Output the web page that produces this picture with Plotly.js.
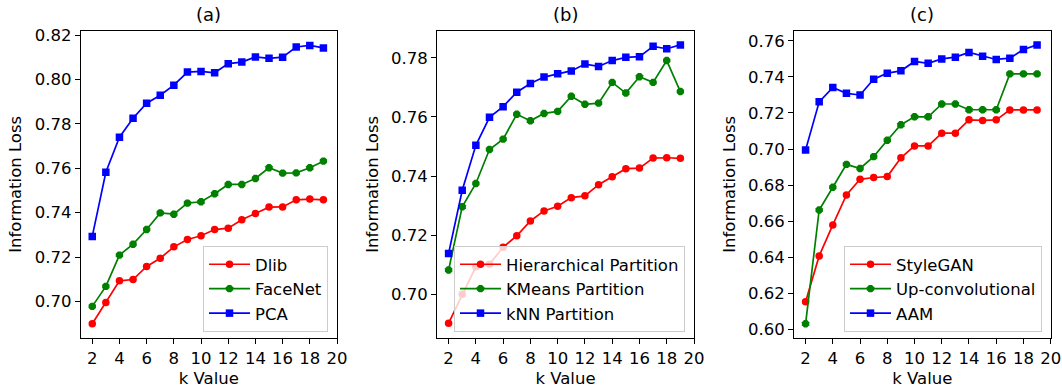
<!DOCTYPE html>
<html>
<head>
<meta charset="utf-8">
<script src="https://cdn.plot.ly/plotly-3.0.1.min.js"></script>
<style>html,body{margin:0;padding:0;background:#fff;}#chart{width:1062px;height:392px;}</style>
</head>
<body>
<div id="chart"></div>
<script>
const kValues = [2,3,4,5,6,7,8,9,10,11,12,13,14,15,16,17,18,19];
const xTicks = [2,4,6,8,10,12,14,16,18,20];

// (a)
const dlib    = [0.6900,0.6996,0.7093,0.7099,0.7158,0.7195,0.7246,0.7279,0.7296,0.7324,0.7330,0.7368,0.7396,0.7425,0.7426,0.7458,0.7461,0.7458];
const facenet = [0.6978,0.7068,0.7209,0.7258,0.7324,0.7399,0.7393,0.7443,0.7449,0.7485,0.7527,0.7527,0.7554,0.7602,0.7578,0.7579,0.7602,0.7632];
const pca     = [0.7293,0.7582,0.7740,0.7825,0.7893,0.7929,0.7974,0.8033,0.8036,0.8030,0.8071,0.8078,0.8101,0.8095,0.8100,0.8146,0.8153,0.8142];
// (b)
const hierarchical = [0.6902,0.7000,0.7093,0.7102,0.7159,0.7198,0.7248,0.7282,0.7298,0.7327,0.7333,0.7371,0.7398,0.7425,0.7427,0.7461,0.7462,0.7460];
const kmeans       = [0.7082,0.7296,0.7375,0.7490,0.7525,0.7609,0.7587,0.7612,0.7619,0.7670,0.7643,0.7647,0.7717,0.7681,0.7736,0.7717,0.7791,0.7686];
const knn          = [0.7138,0.7352,0.7504,0.7599,0.7635,0.7684,0.7713,0.7735,0.7746,0.7756,0.7779,0.7771,0.7791,0.7802,0.7804,0.7839,0.7831,0.7844];
// (c)
const stylegan = [0.6152,0.6407,0.6579,0.6745,0.6832,0.6842,0.6847,0.6951,0.7017,0.7017,0.7088,0.7088,0.7162,0.7159,0.7162,0.7217,0.7217,0.7217];
const upconv   = [0.6030,0.6662,0.6788,0.6915,0.6892,0.6958,0.7049,0.7135,0.7179,0.7179,0.7250,0.7250,0.7218,0.7218,0.7218,0.7417,0.7417,0.7417];
const aam      = [0.6995,0.7262,0.7342,0.7309,0.7300,0.7387,0.7421,0.7434,0.7486,0.7476,0.7500,0.7510,0.7536,0.7515,0.7497,0.7504,0.7552,0.7578];

const panelTitles = ['(a)','(b)','(c)'];
const namesA = ['Dlib','FaceNet','PCA'];
const namesB = ['Hierarchical Partition','KMeans Partition','kNN Partition'];
const namesC = ['StyleGAN','Up-convolutional','AAM'];
const yTitle = 'Information Loss';
const xTitle = 'k Value';

const RED = '#ff0000', GREEN = '#008000', BLUE = '#0000ff';
const FONT = 'DejaVu Sans, sans-serif';
const W = 1062, H = 392;

function mk(y, name, color, symbol, size, xa, ya, leg) {
  return {x: kValues, y: y, name: name, type: 'scatter', mode: 'lines+markers',
    xaxis: xa, yaxis: ya, legend: leg,
    line: {color: color, width: 1.7},
    marker: {color: color, symbol: symbol, size: size, line: {width: 0}}};
}

const traces = [
  mk(dlib, namesA[0], RED, 'circle', 7.5, 'x', 'y', 'legend'),
  mk(facenet, namesA[1], GREEN, 'octagon', 8, 'x', 'y', 'legend'),
  mk(pca, namesA[2], BLUE, 'square', 7.5, 'x', 'y', 'legend'),
  mk(hierarchical, namesB[0], RED, 'circle', 7.5, 'x2', 'y2', 'legend2'),
  mk(kmeans, namesB[1], GREEN, 'octagon', 8, 'x2', 'y2', 'legend2'),
  mk(knn, namesB[2], BLUE, 'square', 7.5, 'x2', 'y2', 'legend2'),
  mk(stylegan, namesC[0], RED, 'circle', 7.5, 'x3', 'y3', 'legend3'),
  mk(upconv, namesC[1], GREEN, 'octagon', 8, 'x3', 'y3', 'legend3'),
  mk(aam, namesC[2], BLUE, 'square', 7.5, 'x3', 'y3', 'legend3')
];

const yDom = [1 - 337.7/H, 1 - 31/H];
const xDoms = [[80.7/W, 337/W],[437/W, 694/W],[794/W, 1050.7/W]];
const yRanges = [[0.6837, 0.8218],[0.6853, 0.7891],[0.5953, 0.7655]];

function xaxis(i) {
  return {domain: xDoms[i], range: [1.15, 20], tickvals: xTicks, ticks: 'outside', ticklen: 5,
    tickwidth: 1, tickcolor: '#000', showline: true, mirror: true, linecolor: '#000', linewidth: 1,
    showgrid: false, zeroline: false, anchor: i === 0 ? 'y' : 'y' + (i+1),
    tickfont: {family: FONT, size: 16.5, color: '#000'},
    title: {text: xTitle, font: {family: FONT, size: 16.5, color: '#000'}, standoff: 5}};
}
function yaxis(i) {
  return {domain: yDom, range: yRanges[i], dtick: 0.02, tick0: 0, tickformat: '.2f', ticks: 'outside', ticklen: 5,
    tickwidth: 1, tickcolor: '#000', showline: true, mirror: true, linecolor: '#000', linewidth: 1,
    showgrid: false, zeroline: false, anchor: i === 0 ? 'x' : 'x' + (i+1),
    tickfont: {family: FONT, size: 16.5, color: '#000'},
    title: {text: yTitle, font: {family: FONT, size: 16.5, color: '#000'}, standoff: 8}};
}
function legend(xr) {
  return {x: xr/W, y: 1 - 332/H, xanchor: 'right', yanchor: 'bottom', itemwidth: 41,
    bgcolor: 'rgba(255,255,255,0.8)', bordercolor: '#cccccc', borderwidth: 1,
    font: {family: FONT, size: 16.5, color: '#000'}, tracegroupgap: 0};
}

const annotations = panelTitles.map((t, i) => ({
  text: t, xref: 'paper', yref: 'paper', x: (xDoms[i][0] + xDoms[i][1]) / 2, y: 1 - 15/H,
  xanchor: 'center', yanchor: 'middle', showarrow: false,
  font: {family: FONT, size: 18, color: '#000'}
}));

const layout = {
  width: W, height: H, margin: {l: 0, r: 0, t: 0, b: 0},
  paper_bgcolor: '#fff', plot_bgcolor: '#fff',
  font: {family: FONT, color: '#000'},
  xaxis: xaxis(0), xaxis2: xaxis(1), xaxis3: xaxis(2),
  yaxis: yaxis(0), yaxis2: yaxis(1), yaxis3: yaxis(2),
  legend: legend(328), legend2: legend(685), legend3: legend(1042),
  annotations: annotations,
  showlegend: true
};

Plotly.newPlot('chart', traces, layout, {displayModeBar: false, staticPlot: true});
</script>
</body>
</html>
